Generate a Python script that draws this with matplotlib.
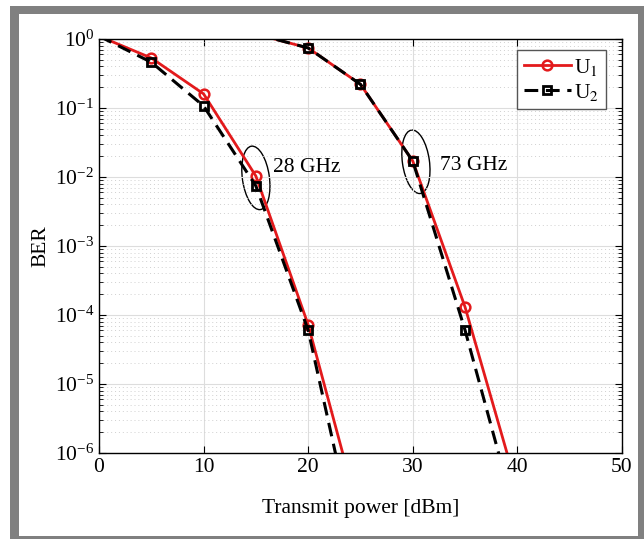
import matplotlib
matplotlib.use("Agg")
import matplotlib.pyplot as plt
from matplotlib.patches import Ellipse, Rectangle
from matplotlib.transforms import IdentityTransform
from matplotlib.ticker import LogLocator, NullFormatter

plt.rcParams['font.family'] = ['Liberation Serif', 'DejaVu Serif']
plt.rcParams['mathtext.fontset'] = 'stix'

# 28 GHz curves
x28 = [0, 5, 10, 15, 20, 25]
u1_28 = [1.1, 0.53, 0.16, 0.0103, 7.2e-5, 1.1e-7]
u2_28 = [1.1, 0.46, 0.107, 0.0074, 6e-5, 2.3e-8]

# 73 GHz curves
x73 = [15, 20, 25, 30, 35, 40]
u1_73 = [1.18, 0.74, 0.22, 0.017, 1.3e-4, 3e-7]
u2_73 = [1.18, 0.74, 0.22, 0.017, 6e-5, 1e-7]

xticks = [0, 10, 20, 30, 40, 50]

fig = plt.figure(figsize=(6.44, 5.39), dpi=100)
ax = fig.add_axes([0.1537, 0.1596, 0.8121, 0.7681])

fs = 15.5
red_style = dict(color='#e31a1c', lw=2, marker='o', markersize=7, mfc='none', mew=1.8)
blk_style = dict(color='black', lw=2.2, ls=(0, (4.5, 2.5)), marker='s', markersize=6, mfc='none', mew=2)

ax.plot(x28, u1_28, markevery=[1, 2, 3, 4], label='U$_1$', **red_style)
ax.plot(x73, u1_73, markevery=[1, 2, 3, 4], **red_style)
ax.plot(x28, u2_28, markevery=[1, 2, 3, 4], label='U$_2$', **blk_style)
ax.plot(x73, u2_73, markevery=[1, 2, 3, 4], **blk_style)

ax.set_yscale('log')
ax.set_xlim(0, 50)
ax.set_ylim(1e-6, 1)
ax.set_xticks(xticks)
ax.yaxis.set_minor_locator(LogLocator(base=10, subs=range(2, 10), numticks=20))
ax.yaxis.set_minor_formatter(NullFormatter())
ax.tick_params(which='both', direction='in', top=True, right=True, labelsize=fs)
ax.tick_params(which='major', length=5)
ax.tick_params(which='minor', length=3)
ax.grid(True, which='major', color='#dddddd', lw=0.8)
ax.grid(True, which='minor', axis='y', color='#d0d0d0', lw=0.7, ls=(0, (1, 3)))
for s in ax.spines.values():
    s.set_linewidth(1)

ax.set_xlabel('Transmit power [dBm]', fontsize=fs, labelpad=16)
ax.set_ylabel('BER', fontsize=fs, labelpad=3)

ax.legend(loc='upper right', fontsize=fs, fancybox=False, edgecolor='#555555',
          framealpha=1, handlelength=2.2, handletextpad=0.15, borderpad=0.3,
          labelspacing=0.2, borderaxespad=0, bbox_to_anchor=(0.969, 0.973))

ax.text(16.6, 0.0135, '28 GHz', fontsize=fs, va='center', ha='left')
ax.text(32.6, 0.0149, '73 GHz', fontsize=fs, va='center', ha='left')

for cx, cy in [(15.0, 0.0097), (30.3, 0.0166)]:
    px, py = ax.transData.transform((cx, cy))
    ax.add_patch(Ellipse((px, py), width=27, height=64, angle=8, fill=False,
                         ec='black', lw=1, transform=IdentityTransform(), clip_on=False))

# gray frame around the figure
W, H = 644, 539
for (x0, y0, w, h) in [(10, 0, 9, 533), (10, 525, 634, 8), (638, 0, 6, 533), (10, 0, 634, 3)]:
    fig.patches.append(Rectangle((x0 / W, y0 / H), w / W, h / H, transform=fig.transFigure,
                                 facecolor='#808080', edgecolor='none'))

fig.savefig('out.png', dpi=100)
